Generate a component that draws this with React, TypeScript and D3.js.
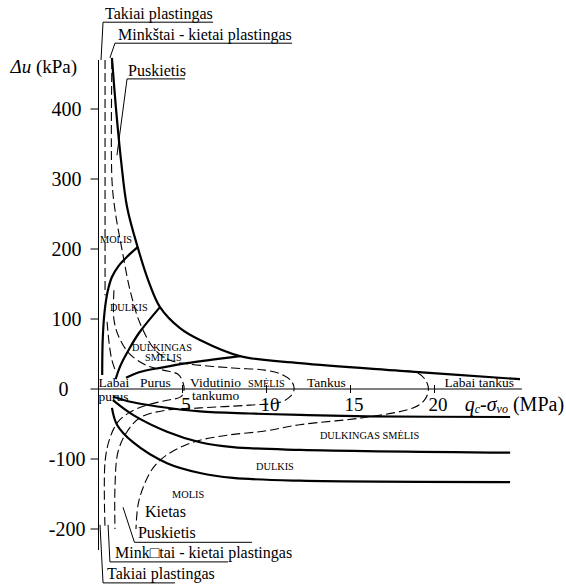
import React from "react";
import * as d3 from "d3";

const W = 566;
const H = 585;

// axis ticks
const xTicks = [5, 10, 15, 20];
const yTicks = [400, 300, 200, 100, 0, -100, -200];

// solid boundaries, [qc - svo (MPa), du (kPa)]
const envelope = [
  [0.8, 473], [1.04, 401], [1.34, 327], [1.7, 260], [2.35, 201], [2.95, 156],
  [3.66, 117], [4.85, 87], [6.04, 70], [8.42, 47], [11.99, 37], [17.98, 26], [25.09, 14],
];
const claySiltUpper = [
  [0.22, 20], [0.25, 70], [0.36, 110], [0.55, 140], [0.8, 160], [1.2, 176], [1.7, 189], [2.35, 203],
];
const siltSandUpper = [[1.02, 14], [1.3, 33], [1.8, 56], [2.41, 80], [3.66, 117]];
const sandUpper = [[1.64, 16], [2.41, 24], [3.84, 31], [5.27, 37], [8.42, 47]];
const sandLower = [
  [0.86, -11], [2.05, -19], [3.5, -25], [6.04, -32], [9, -35], [12, -37], [16, -39], [24.5, -40],
];
const siltySandLower = [
  [0.86, -16], [2.05, -37], [4.08, -61], [6.04, -76], [8, -83], [11.99, -87], [24.5, -91],
];
const siltLower = [
  [0.8, -27], [1.1, -51], [2.05, -76], [4.08, -106], [6.04, -120], [8, -127], [11.99, -131], [24.5, -133],
];

// dashed consistency / density boundaries
const dashVeryLoose = [[0.39, 470], [0.39, 134]];
const dashShort = [[0.51, 96], [0.63, 66], [0.8, 41], [1.04, 24]];
const loop5 = [
  [0.92, 141], [0.92, 99], [1.22, 74], [1.82, 51], [2.83, 34], [3.84, 27], [4.73, 21],
  [5.03, 9], [5.09, -1], [4.91, -11], [4.08, -16], [2.89, -23], [1.88, -33], [1.16, -47],
  [0.68, -70], [0.39, -104], [0.39, -200],
];
const loop12 = [
  [0.8, 470], [0.8, 299], [0.98, 256], [1.4, 199], [1.88, 141], [2.47, 94], [3.36, 56],
  [4.26, 41], [5.27, 36], [8, 30], [9.91, 27], [10.98, 20], [11.52, 10], [11.64, -1],
  [11.4, -11], [10.8, -19], [9.02, -23], [6.04, -27], [4.08, -30], [2.47, -41], [1.7, -61],
  [1.16, -90], [0.98, -141], [0.98, -200],
];
const loop20 = [
  [18.24, 26], [18.99, 23], [19.46, 13], [19.64, -1], [19.4, -16], [18.72, -27], [15.74, -41],
  [11.99, -51], [9.91, -60], [7.65, -66], [5.63, -76], [4.08, -94], [3.24, -113], [2.65, -141],
  [2.35, -166], [2.23, -200],
];

const solidCurves = [envelope, claySiltUpper, siltSandUpper, sandUpper, sandLower, siltySandLower, siltLower];
const dashedCurves = [dashVeryLoose, dashShort, loop5, loop12, loop20];

// labels
const densityLabels = [
  { t: "Labai", q: 0, du: 3 },
  { t: "purus", q: 0, du: -17 },
  { t: "Purus", q: 2.47, du: 3 },
  { t: "Vidutinio", q: 5.45, du: 3 },
  { t: "tankumo", q: 5.57, du: -16 },
  { t: "Tankus", q: 12.41, du: 3 },
  { t: "Labai tankus", q: 20.6, du: 3 },
];
const soilLabels = [
  { t: "MOLIS", q: 0.09, du: 208 },
  { t: "DULKIS", q: 0.68, du: 111 },
  { t: "DULKINGAS", q: 1.99, du: 55 },
  { t: "SMĖLIS", q: 2.77, du: 40 },
  { t: "SMĖLIS", q: 8.9, du: 3 },
  { t: "DULKINGAS SMĖLIS", q: 13.18, du: -72 },
  { t: "DULKIS", q: 9.38, du: -116 },
  { t: "MOLIS", q: 4.38, du: -156 },
];
const consistencyLabels = [
  { t: "Takiai plastingas", q: 0.39, du: 528, line: [[0.27, 524], [6.82, 524]], lead: [[0.27, 524], [0.15, 470]] },
  { t: "Minkštai - kietai plastingas", q: 1.16, du: 499, line: [[0.98, 494], [11.52, 494]], lead: [[0.98, 494], [0.68, 473]] },
  { t: "Puskietis", q: 1.76, du: 447, line: [[1.7, 443], [5.15, 443]], lead: [[1.7, 443], [1.1, 334]] },
  { t: "Kietas", q: 2.77, du: -183, line: null, lead: null },
  { t: "Puskietis", q: 2.35, du: -213, line: [[2.14, -219], [9.14, -219]], lead: [[2.14, -219], [1.46, -169]] },
  { t: "Mink\u25A1tai - kietai plastingas", q: 0.98, du: -241, line: [[0.68, -247], [7.71, -247]], lead: [[0.68, -247], [0.57, -194]] },
  { t: "Takiai plastingas", q: 0.51, du: -271, line: [[0.27, -277], [4.55, -277]], lead: [[0.27, -277], [0.09, -194]] },
];

const FONT = "'Liberation Serif', 'DejaVu Serif', serif";

export default function App() {
  const x = d3.scaleLinear().domain([0, 25]).range([98.5, 518.5]);
  const y = d3.scaleLinear().domain([-200, 400]).range([529, 109]);
  const curve = d3
    .line<number[]>()
    .x((d) => x(d[0]))
    .y((d) => y(d[1]))
    .curve(d3.curveCatmullRom.alpha(0.5));
  const straight = d3
    .line<number[]>()
    .x((d) => x(d[0]))
    .y((d) => y(d[1]));

  const x0 = x(0);
  const y0 = y(0);

  return (
    <svg
      width={W}
      height={H}
      style={{ position: "absolute", left: 0, top: 0, background: "#fff", fontFamily: FONT }}
    >
      <rect width={W} height={H} fill="#fff" />

      {/* y axis */}
      <line x1={x0} x2={x0} y1={y(470)} y2={y(-230)} stroke="#000" strokeWidth={1} />
      {yTicks.filter((v) => v !== 0).map((v) => (
        <line key={"yt" + v} x1={x0 - 8} x2={x0} y1={y(v)} y2={y(v)} stroke="#000" strokeWidth={1} />
      ))}
      {yTicks.map((v) => (
        <text
          key={"yl" + v}
          x={v === 0 ? x0 - 30 : v > 0 ? x0 - 17 : x0 - 13}
          y={y(v)}
          dy="0.34em"
          fontSize={20}
          textAnchor="end"
          style={{ fontFamily: FONT }}
        >
          {v}
        </text>
      ))}
      <text x={x0 - 88} y={y(400) - 36} fontSize={19} style={{ fontFamily: FONT }}>
        <tspan fontStyle="italic">Δu</tspan> (kPa)
      </text>

      {/* x axis */}
      <line x1={x0 - 8} x2={x(25.2)} y1={y0} y2={y0} stroke="#000" strokeWidth={1} />
      {xTicks.map((v) => (
        <line key={"xt" + v} x1={x(v)} x2={x(v)} y1={y0 - 4} y2={y0 + 4} stroke="#000" strokeWidth={1} />
      ))}
      {xTicks.map((v) => (
        <text key={"xl" + v} x={x(v) + 3.5} y={y0 + 22} fontSize={19} textAnchor="middle" style={{ fontFamily: FONT }}>
          {v}
        </text>
      ))}
      <text x={x(21.8)} y={y0 + 22} fontSize={20} style={{ fontFamily: FONT }}>
        <tspan fontStyle="italic">q</tspan>
        <tspan fontStyle="italic" fontSize={12} dy={2}>c</tspan>
        <tspan dy={-2}>-</tspan>
        <tspan fontStyle="italic">σ</tspan>
        <tspan fontStyle="italic" fontSize={12} dy={2}>vo</tspan>
        <tspan dy={-2}> (MPa)</tspan>
      </text>

      {/* labels */}
      {densityLabels.map((l, i) => (
        <text key={"d" + i} x={x(l.q)} y={y(l.du)} fontSize={13.5} style={{ fontFamily: FONT }}>
          {l.t}
        </text>
      ))}
      {soilLabels.map((l, i) => (
        <text key={"s" + i} x={x(l.q)} y={y(l.du)} fontSize={10.3} style={{ fontFamily: FONT }}>
          {l.t}
        </text>
      ))}
      {consistencyLabels.map((l, i) => (
        <g key={"c" + i}>
          <text x={x(l.q)} y={y(l.du)} fontSize={16} style={{ fontFamily: FONT }}>
            {l.t}
          </text>
          {l.line && <path d={straight(l.line) || ""} stroke="#000" strokeWidth={1} fill="none" />}
          {l.lead && <path d={straight(l.lead) || ""} stroke="#000" strokeWidth={1} fill="none" />}
        </g>
      ))}

      {/* dashed boundaries */}
      {dashedCurves.map((c, i) => (
        <path
          key={"dc" + i}
          d={curve(c) || ""}
          fill="none"
          stroke="#000"
          strokeWidth={1.1}
          strokeDasharray="9 4"
        />
      ))}

      {/* solid boundaries */}
      {solidCurves.map((c, i) => (
        <path key={"sc" + i} d={curve(c) || ""} fill="none" stroke="#000" strokeWidth={2.2} />
      ))}
    </svg>
  );
}
